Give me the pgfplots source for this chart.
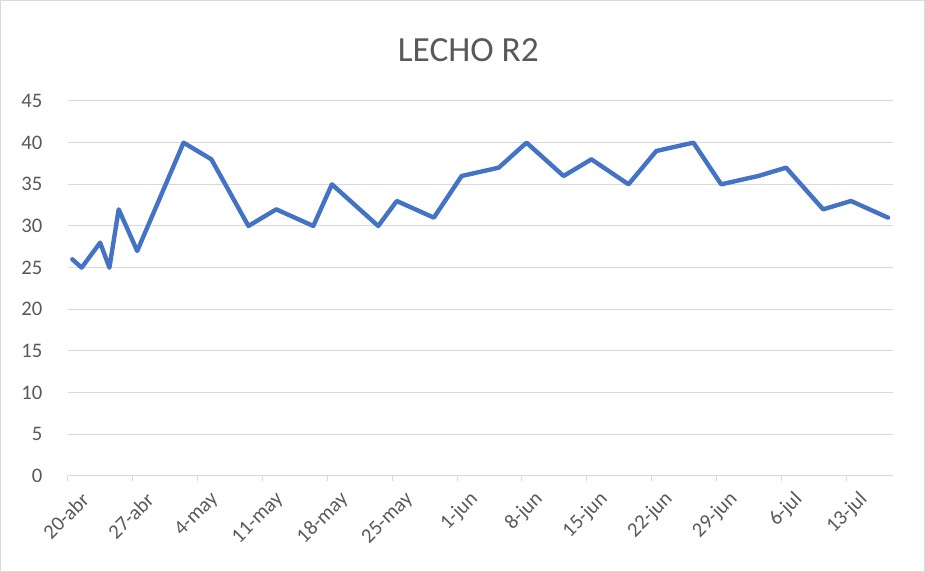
\documentclass[border=0pt]{standalone}
\usepackage{pgfplots}
\pgfplotsset{compat=1.18}
\usepackage{fontspec}
\setmainfont{Carlito}
\definecolor{txt}{HTML}{595959}
\definecolor{grd}{HTML}{D9D9D9}
\definecolor{ln}{HTML}{4472C4}
\begin{document}
\begin{tikzpicture}[x=1pt,y=1pt]
\path[use as bounding box] (-50.78,-72) rectangle (643,357);
\draw[grd, line width=0.75pt] (-50.4,-71.6) rectangle (642.6,356.6);
\begin{axis}[
  at={(0,0)}, anchor=south west, scale only axis,
  width=618.75pt, height=281.25pt,
  xmin=0, xmax=89, ymin=0, ymax=45,
  axis x line*=bottom, axis y line*=left,
  separate axis lines,
  x axis line style={draw=grd, line width=0.75pt, -},
  y axis line style={draw=none},
  ymajorgrids, grid style={grd, line width=0.75pt},
  xtick={0,7,14,21,28,35,42,49,56,63,70,77,84},
  xticklabels={20-abr,27-abr,4-may,11-may,18-may,25-may,1-jun,8-jun,15-jun,22-jun,29-jun,6-jul,13-jul},
  ytick={0,5,10,15,20,25,30,35,40,45},
  tick align=outside,
  xtick style={draw=grd, line width=0.75pt},
  major tick length=3.75pt,
  ytick style={draw=none},
  /pgf/number format/assume math mode=true,
  ticklabel style={text=txt, font=\fontsize{15.5}{18}\selectfont},
  yticklabel style={anchor=east, inner sep=0pt, xshift=-15pt},
  xticklabel style={rotate=45, anchor=east, inner sep=0pt, xshift=1.5pt, yshift=-17.5pt},
  clip=false,
]
\addplot[ln, line width=3.3pt, line join=round, line cap=round] coordinates {
(0.5,26) (1.5,25) (3.5,28) (4.5,25) (5.5,32) (7.5,27) (12.5,40) (15.5,38)
(19.5,30) (22.5,32) (26.5,30) (28.5,35) (33.5,30) (35.5,33) (39.5,31)
(42.5,36) (46.5,37) (49.5,40) (53.5,36) (56.5,38) (60.5,35) (63.5,39)
(67.5,40) (70.5,35) (74.5,36) (77.5,37) (81.5,32) (84.5,33) (88.5,31)
};
\end{axis}
\node[text=txt, font=\fontsize{26.5}{30}\selectfont] at (300.5,319.5) {LECHO R2};
\end{tikzpicture}
\end{document}
